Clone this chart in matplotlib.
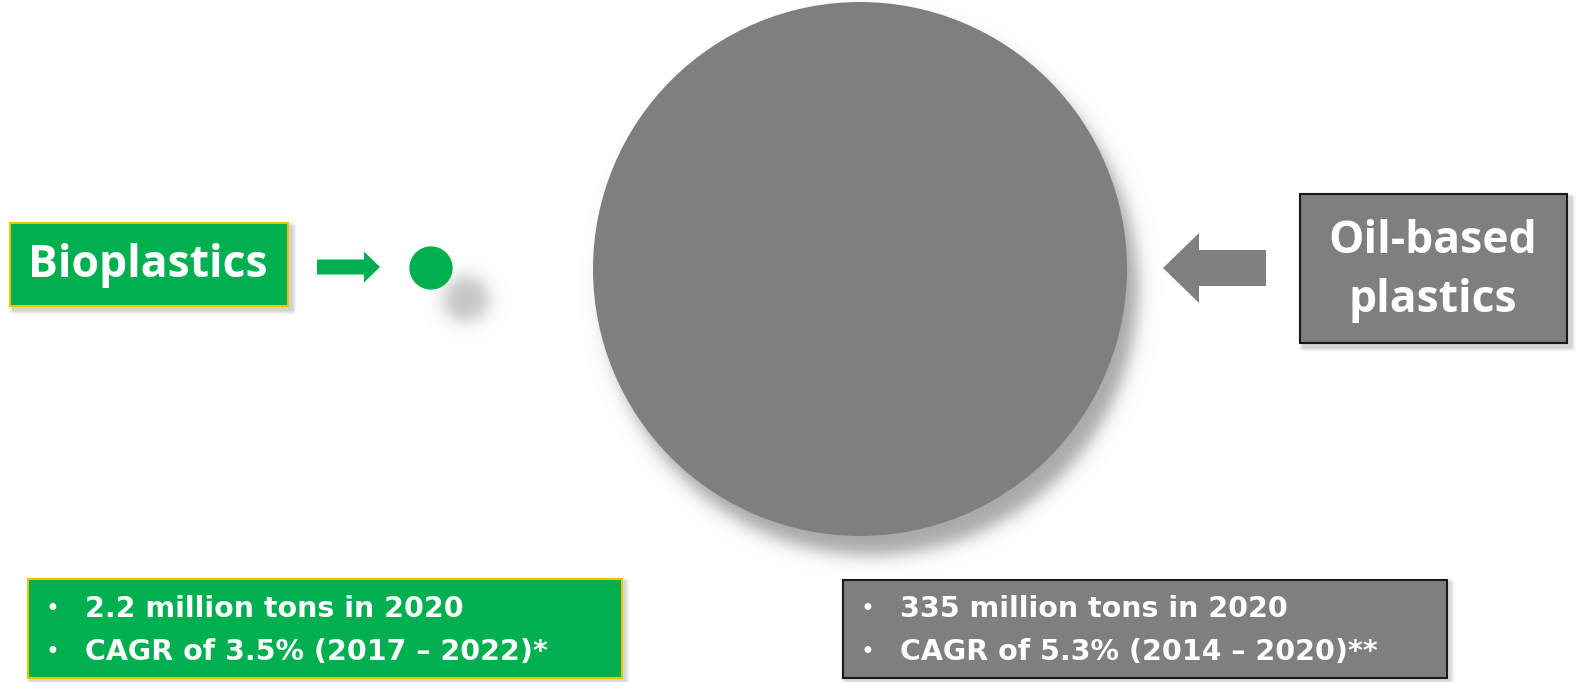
import numpy as np
import matplotlib
matplotlib.use("Agg")
import matplotlib.pyplot as plt
from matplotlib.patches import Circle, Rectangle, FancyArrow

# Data: production volume in 2020 (million tons)
materials = ["Bioplastics", "Oil-based\nplastics"]
volumes = [2.2, 335]
bullets_bio = ["2.2 million tons in 2020", "CAGR of 3.5% (2017 \u2013 2022)*"]
bullets_oil = ["335 million tons in 2020", "CAGR of 5.3% (2014 \u2013 2020)**"]

GREEN = "#00b050"
GREY = "#7f7f7f"
W, H = 1576, 682

fig = plt.figure(figsize=(W / 100, H / 100), dpi=100)
ax = fig.add_axes([0, 0, 1, 1])
ax.set_xlim(0, W)
ax.set_ylim(H, 0)
ax.set_aspect("equal")
ax.axis("off")

# bubble area proportional to volume; the big one sets the scale
big_r = 267
radii = [big_r * np.sqrt(v / volumes[1]) for v in volumes]
centers = [(431, 268), (860, 269)]

# soft shadows, rendered as one RGBA layer
yy, xx = np.mgrid[0:H, 0:W] + 0.5
alpha = np.zeros((H, W))


def circle_shadow(cx, cy, r, blur, peak):
    d = np.hypot(xx - cx, yy - cy) - r
    return peak * 0.5 * (1 - np.tanh(d / blur))


def rect_shadow(x0, y0, x1, y1, blur, peak):
    dx = np.maximum(np.maximum(x0 - xx, xx - x1), 0)
    dy = np.maximum(np.maximum(y0 - yy, yy - y1), 0)
    d = np.hypot(dx, dy)
    return peak * np.exp(-(d / blur) ** 2)


alpha = np.maximum(alpha, circle_shadow(centers[1][0] + 11, centers[1][1] + 19, radii[1], 10, 0.68))
alpha = np.maximum(alpha, circle_shadow(466, 299, radii[0], 10, 0.45))
alpha = np.maximum(alpha, rect_shadow(14, 227, 292, 310, 3, 0.35))
alpha = np.maximum(alpha, rect_shadow(1304, 198, 1571, 347, 3, 0.35))
alpha = np.maximum(alpha, rect_shadow(31, 582, 625, 681, 3, 0.3))
alpha = np.maximum(alpha, rect_shadow(846, 583, 1450, 681, 3, 0.3))

shadow = np.zeros((H, W, 4))
shadow[..., :3] = 0.5
shadow[..., 3] = alpha
ax.imshow(shadow, extent=(0, W, H, 0), zorder=0, interpolation="bilinear")

# bubbles
for (cx, cy), r, c in zip(centers, radii, [GREEN, GREY]):
    ax.add_patch(Circle((cx, cy), r, facecolor=c, edgecolor="none", zorder=3))

# label boxes
ax.add_patch(Rectangle((10, 223), 278, 83, facecolor=GREEN, edgecolor="#f2c200", lw=1.5, zorder=3))
ax.text(148, 266, materials[0], color="white", fontsize=32, fontweight="bold",
        family="Open Sans", ha="center", va="center", zorder=4)

ax.add_patch(Rectangle((1300, 194), 267, 149, facecolor=GREY, edgecolor="#1a1a1a", lw=1.5, zorder=3))
ax.text(1433, 271, materials[1], color="white", fontsize=32, fontweight="bold",
        family="Open Sans", ha="center", va="center", linespacing=1.4, zorder=4)

# arrows
ax.add_patch(FancyArrow(317, 267, 63, 0, width=15, head_width=31, head_length=16,
                        length_includes_head=True, facecolor=GREEN, edgecolor="none", zorder=3))
ax.add_patch(FancyArrow(1266, 268, -103, 0, width=36, head_width=70, head_length=36,
                        length_includes_head=True, facecolor=GREY, edgecolor="none", zorder=3))

# bottom fact boxes
ax.add_patch(Rectangle((28, 579), 594, 99, facecolor=GREEN, edgecolor="#f2c200", lw=1.5, zorder=3))
ax.add_patch(Rectangle((843, 580), 604, 98, facecolor=GREY, edgecolor="#1a1a1a", lw=1.5, zorder=3))

for x_b, x_t, lines in [(52, 85, bullets_bio), (867, 900, bullets_oil)]:
    for i, line in enumerate(lines):
        y = 609 + i * 43
        ax.text(x_b, y, "\u2022", color="white", fontsize=17, ha="center", va="center", zorder=4)
        ax.text(x_t, y, line, color="white", fontsize=20.5, fontweight="bold",
                family="DejaVu Sans", ha="left", va="center", zorder=4)

fig.savefig("out.png", dpi=100)
